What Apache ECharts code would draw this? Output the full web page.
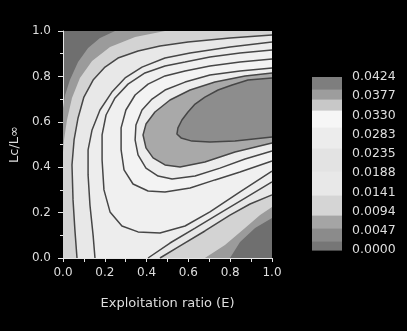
<!DOCTYPE html>
<html><head><meta charset="utf-8">
<script src="https://cdn.jsdelivr.net/npm/echarts@6/dist/echarts.min.js"></script>
<style>html,body{margin:0;padding:0;background:#000;}#c{width:407px;height:331px;}</style>
</head><body><div id="c"></div>
<script>
// ---- data ----
const xTickLabels = ['0.0','0.2','0.4','0.6','0.8','1.0'];
const yTickLabels = ['0.0','0.2','0.4','0.6','0.8','1.0'];
const colorbarLabels = ['0.0000','0.0047','0.0094','0.0141','0.0188','0.0235','0.0283','0.0330','0.0377','0.0424'];
const contourLevels = [0.0024,0.0071,0.0118,0.0165,0.0212,0.0259,0.0306,0.0353,0.0400];

// contour pieces [E, Lc/Linf]
const level1Upper = [[0.249,1],[0.177,0.969],[0.12,0.925],[0.072,0.863],[0.033,0.784],[0.01,0.718],[0,0.661]];
const level1Lower = [[0.799,0],[0.847,0.07],[0.919,0.132],[1,0.176]];
const level2Upper = [[0.488,1],[0.345,0.974],[0.225,0.93],[0.139,0.868],[0.081,0.793],[0.043,0.705],[0.019,0.608],[0.005,0.52],[0,0.467]];
const level2Lower = [[0.679,0],[0.775,0.057],[0.871,0.132],[0.943,0.189],[1,0.225]];
const level3Upper = [[1,0.982],[0.799,0.969],[0.598,0.952],[0.464,0.934],[0.359,0.912],[0.263,0.881],[0.201,0.841],[0.144,0.784],[0.1,0.709],[0.072,0.617],[0.053,0.52],[0.043,0.41],[0.048,0.256],[0.057,0.123],[0.067,0]];
const level3Lower = [[0.464,0],[0.56,0.053],[0.679,0.119],[0.799,0.189],[0.895,0.238],[1,0.278]];
const level4Upper = [[1,0.952],[0.799,0.93],[0.608,0.903],[0.488,0.881],[0.378,0.841],[0.297,0.793],[0.234,0.731],[0.177,0.652],[0.139,0.564],[0.12,0.476],[0.12,0.366],[0.129,0.233],[0.144,0.101],[0.153,0]];
const level4Lower = [[0.407,0],[0.512,0.066],[0.632,0.132],[0.751,0.198],[0.871,0.264],[1,0.335]];
const level5 = [[1,0.916],[0.847,0.903],[0.703,0.885],[0.584,0.863],[0.488,0.846],[0.392,0.815],[0.311,0.766],[0.249,0.705],[0.206,0.63],[0.187,0.542],[0.187,0.432],[0.196,0.3],[0.225,0.203],[0.282,0.141],[0.359,0.115],[0.464,0.11],[0.584,0.141],[0.703,0.203],[0.847,0.291],[1,0.383]];
const level6 = [[1,0.877],[0.847,0.863],[0.703,0.846],[0.584,0.824],[0.488,0.802],[0.407,0.766],[0.345,0.718],[0.301,0.652],[0.278,0.573],[0.278,0.476],[0.292,0.388],[0.335,0.326],[0.407,0.295],[0.488,0.291],[0.608,0.308],[0.727,0.344],[0.847,0.379],[1,0.427]];
const level7 = [[1,0.837],[0.847,0.824],[0.703,0.806],[0.584,0.775],[0.488,0.74],[0.426,0.7],[0.378,0.652],[0.349,0.586],[0.345,0.52],[0.359,0.454],[0.397,0.396],[0.455,0.361],[0.522,0.348],[0.632,0.361],[0.751,0.396],[0.871,0.436],[1,0.471]];
const level8 = [[1,0.815],[0.871,0.802],[0.727,0.775],[0.608,0.74],[0.512,0.696],[0.44,0.643],[0.397,0.59],[0.383,0.542],[0.397,0.485],[0.431,0.441],[0.488,0.41],[0.56,0.401],[0.679,0.423],[0.823,0.467],[1,0.507]];
const level9 = [[1,0.793],[0.885,0.784],[0.809,0.762],[0.742,0.74],[0.679,0.709],[0.632,0.678],[0.598,0.643],[0.569,0.608],[0.55,0.573],[0.545,0.546],[0.565,0.529],[0.617,0.515],[0.703,0.511],[0.823,0.515],[1,0.533]];

// fill colours of the bands (below level 1 ... above level 9)
const bandColors = ['#6f6f6f','#9b9b9b','#d3d3d3','#e8e8e8','#ededed','#f0f0f0','#f3f3f3','#ededed','#a9a9a9','#8d8d8d'];
// colour bar segments (value edges, bottom to top) and colours
const colorbarEdges = [0,0.0021,0.0053,0.0087,0.0136,0.0193,0.0251,0.0301,0.0342,0.0371,0.0395,0.0424];
const colorbarColors = ['#767676','#8b8b8b','#a5a5a5','#d5d5d5','#e8e8e8','#e3e3e3','#ececec','#f6f6f6','#c8c8c8','#9d9d9d','#7e7e7e'];

// ---- build ----
const levels = [
  {v:contourLevels[0], upper:level1Upper, lower:level1Lower, line:false},
  {v:contourLevels[1], upper:level2Upper, lower:level2Lower, line:false},
  {v:contourLevels[2], upper:level3Upper, lower:level3Lower, line:true},
  {v:contourLevels[3], upper:level4Upper, lower:level4Lower, line:true},
  {v:contourLevels[4], upper:level5, line:true},
  {v:contourLevels[5], upper:level6, line:true},
  {v:contourLevels[6], upper:level7, line:true},
  {v:contourLevels[7], upper:level8, line:true},
  {v:contourLevels[8], upper:level9, line:true}
];
function regionPoints(lv){
  const pts = lv.upper.slice();
  const last = lv.upper[lv.upper.length-1];
  if (last[0] === 0) pts.push([0,0]);
  if (lv.lower) pts.push(...lv.lower);
  const first = lv.upper[0];
  if (first[1] === 1 && first[0] < 1) pts.push([1,1]);
  return pts;
}
const fontFam = "'DejaVu Sans', sans-serif";
const txt = '#dedede';
const series = [];
series.push({
  type:'custom', xAxisIndex:0, yAxisIndex:0, clip:true,
  data: levels.map((lv,i)=>[i, lv.v]),
  renderItem:function(params, api){
    const i = api.value(0);
    const pts = regionPoints(levels[i]).map(p=>api.coord(p));
    return {type:'polygon', shape:{points:pts}, style:{fill:bandColors[i+1], stroke:null}};
  },
  z:2
});
levels.forEach((lv)=>{
  const pieces = [lv.upper];
  if (lv.lower) pieces.push(lv.lower);
  pieces.forEach(pc=>{
    series.push({type:'line', xAxisIndex:0, yAxisIndex:0, data:pc, showSymbol:false, symbol:'none',
      lineStyle:{color: lv.line ? '#464646' : 'rgba(0,0,0,0)', width:1.5}, z:3, silent:true});
  });
});
// colour bar: one rectangle per segment, positioned by the bar's value axis
const step = colorbarEdges[colorbarEdges.length-1] / (colorbarLabels.length-1);
series.push({
  type:'custom', xAxisIndex:1, yAxisIndex:1, silent:true,
  data: colorbarColors.map((c,k)=>[0, colorbarEdges[k]/step, colorbarEdges[k+1]/step, k]),
  renderItem:function(params, api){
    const lo = api.coord([api.value(0), api.value(1)]);
    const hi = api.coord([api.value(0), api.value(2)]);
    const w = api.size([1, 0])[0];
    const k = api.value(3);
    const top = Math.round(hi[1]), bot = Math.round(lo[1]);
    return {type:'rect', shape:{x:lo[0]-w/2, y:top, width:w, height:bot-top+0.6},
      style:{fill:colorbarColors[k], stroke:null}};
  }
});
const chart = echarts.init(document.getElementById('c'), null, {renderer:'canvas'});
chart.setOption({
  animation:false,
  backgroundColor:'#000',
  grid:[
    {left:63, top:31, width:209, height:227, show:true, backgroundColor:bandColors[0], borderWidth:0},
    {left:312, top:77, width:30, height:173}
  ],
  xAxis:[
    {type:'value', gridIndex:0, min:0, max:1, interval:0.2,
     name:'Exploitation ratio (E)', nameLocation:'middle', nameGap:39,
     nameTextStyle:{color:txt, fontSize:13, fontFamily:fontFam},
     axisLine:{show:true, onZero:false, lineStyle:{color:'#e6e6e6', width:1}},
     axisTick:{show:true, length:4, lineStyle:{color:'#e6e6e6'}},
     minorTick:{show:true, splitNumber:2, length:4, lineStyle:{color:'#e6e6e6'}},
     splitLine:{show:false},
     axisLabel:{color:txt, fontSize:12, fontFamily:fontFam, margin:9,
       formatter:(v)=>xTickLabels[Math.round(v*5)]}},
    {type:'category', gridIndex:1, data:['bar'], show:false, boundaryGap:true}
  ],
  yAxis:[
    {type:'value', gridIndex:0, min:0, max:1, interval:0.2,
     name:'Lc/L\u221e', nameLocation:'middle', nameGap:42,
     nameTextStyle:{color:txt, fontSize:13, fontFamily:fontFam},
     axisLine:{show:true, onZero:false, lineStyle:{color:'#e6e6e6', width:1}},
     axisTick:{show:true, length:5, lineStyle:{color:'#e6e6e6'}},
     minorTick:{show:true, splitNumber:2, length:3, lineStyle:{color:'#e6e6e6'}},
     splitLine:{show:false},
     axisLabel:{color:txt, fontSize:12, fontFamily:fontFam, margin:12,
       formatter:(v)=>yTickLabels[Math.round(v*5)]}},
    {type:'value', gridIndex:1, min:0, max:9, interval:1, position:'right',
     axisLine:{show:false}, axisTick:{show:false}, splitLine:{show:false},
     axisLabel:{color:txt, fontSize:12.5, fontFamily:fontFam, margin:10,
       formatter:(v)=>colorbarLabels[Math.round(v)]}}
  ],
  series: series
});
</script></body></html>
